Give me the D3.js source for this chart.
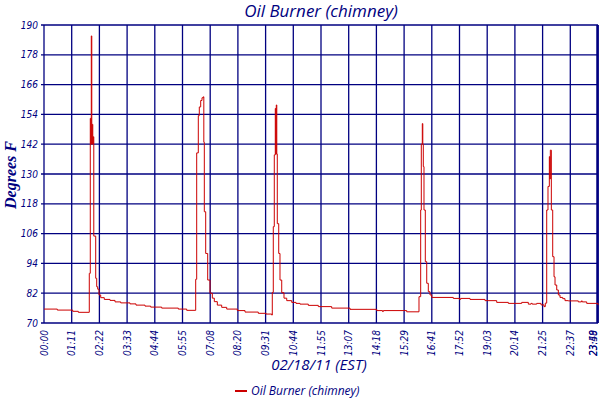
<!DOCTYPE html>
<html>
<head>
<meta charset="utf-8">
<script src="https://cdn.jsdelivr.net/npm/d3@7"></script>
<style>
  body { margin: 0; background: #fff; }
  text { fill: #000080; }
</style>
</head>
<body>
<div id="chart"></div>
<script>
// minutes since midnight on 02/18/11
const times = [
  0, 34.6, 74.6, 89.2, 117.7, 119, 120.3, 121.6, 122.9, 124.2, 125.5, 126.8, 128.1, 129.4,
  134.4, 137, 139.6, 143, 147.4, 156.7, 171.6, 184.6, 199.4, 223.5, 239.1, 262.5, 277.3,
  305.9, 349.1, 370.9, 394.3, 395.6, 396.9, 401.1, 403.7, 407.3, 410.7, 414.1, 415.4, 416.7,
  420.3, 425.5, 431.5, 437.5, 442.7, 450.5, 461.9, 474.9, 502.5, 522.5, 557, 577, 591.9,
  593.4, 596, 598.6, 601.2, 602.5, 603.8, 605.1, 606.4, 610.1, 613.4, 617.9, 623.8, 630.9,
  643.9, 655, 665.4, 687, 713, 747.8, 795.4, 864.8, 880, 882, 942.8, 974.7, 977.5, 979.1,
  980.7, 983.3, 984.6, 985.9, 987.7, 991.1, 994.8, 998.9, 1003.3, 1007.8, 1063.9, 1080,
  1083, 1107.3, 1146.3, 1176.7, 1206.9, 1241.7, 1258.9, 1266, 1269, 1280.7, 1291.9, 1299.7,
  1303, 1306.7, 1310, 1313.5, 1314.8, 1316.1, 1318.7, 1322.3, 1325.7, 1328.3, 1332.7,
  1336.9, 1341.2, 1348.3, 1354.2, 1362.8, 1388.8, 1397, 1399, 1410.6, 1436.6, 1440
];
const temps = [
  75.6, 75.2, 74.7, 74.3, 90, 90, 152.4, 142, 185.6, 142, 150, 142, 145, 105,
  88, 84.6, 83.6, 81.3, 80.2, 79.5, 79.1, 78.5, 78.1, 77.7, 77.2, 76.8, 76.4,
  76.0, 75.6, 75.1, 87.6, 87.6, 138.5, 153.5, 157, 159.6, 160.7, 161.1, 142.8, 114.8,
  98, 87.3, 82, 80, 78.6, 77.2, 76.3, 75.6, 75, 74.4, 73.9, 73.6, 73.2,
  82.3, 108.8, 137.7, 156.4, 138, 157.8, 138, 110, 98, 87.3, 82.2, 80, 79,
  78.3, 77.9, 77.6, 77.1, 76.6, 76, 75.5, 75, 74.6, 75, 74.5, 80.6, 80.6, 115.5,
  142, 150.3, 142, 133, 115.5, 94.7, 86, 82.6, 81.3, 80.3, 79.9, 79.5,
  79.9, 79.5, 79, 78.3, 77.9, 78.3, 77.6, 77.9, 77.6, 77.9, 77.3, 76.6,
  78, 115.5, 125, 137, 128, 139.6, 115.5, 96.7, 88.6, 85.3, 83.3,
  81.3, 80.3, 79.8, 79, 78.9, 78.5, 78.9, 78.5, 77.9, 77.9, 77.2
];
const yTicks = [70, 82, 94, 106, 118, 130, 142, 154, 166, 178, 190];
const xTickLabels = [
  "00:00", "01:11", "02:22", "03:33", "04:44", "05:55", "07:08", "08:20", "09:31",
  "10:44", "11:55", "13:07", "14:18", "15:29", "16:41", "17:52", "19:03", "20:14",
  "21:25", "22:37", "23:48"
];
const lastLabel = "23:59";
const seriesName = "Oil Burner (chimney)";

const width = 600, height = 400;
const margin = { top: 25, right: 2, bottom: 77, left: 44 };
const navy = "#000080";
const red = "#cc0000";

const svg = d3.select("#chart")
  .append("svg")
  .attr("width", width)
  .attr("height", height);

const x = d3.scaleLinear()
  .domain([0, 1440])
  .range([margin.left, width - margin.right]);

const y = d3.scaleLinear()
  .domain([70, 190])
  .range([height - margin.bottom, margin.top]);

// tick positions are evenly spaced slots across the day
const xTickPos = xTickLabels.map((d, i) => i * 1440 / (xTickLabels.length - 1));

// grid
const grid = svg.append("g").attr("stroke", navy).attr("stroke-width", 1.3);
grid.selectAll(".hg")
  .data(yTicks)
  .join("line")
  .attr("x1", margin.left - 3)
  .attr("x2", width - margin.right)
  .attr("y1", (d) => y(d))
  .attr("y2", (d) => y(d));
grid.selectAll(".vg")
  .data(xTickPos)
  .join("line")
  .attr("x1", (d) => x(d))
  .attr("x2", (d) => x(d))
  .attr("y1", margin.top)
  .attr("y2", height - margin.bottom);

// heavier right border
svg.append("line")
  .attr("x1", x(1440) - 0.5).attr("x2", x(1440) - 0.5)
  .attr("y1", margin.top).attr("y2", height - margin.bottom)
  .attr("stroke", navy)
  .attr("stroke-width", 2.5);

// y tick labels
svg.append("g")
  .selectAll("text")
  .data(yTicks)
  .join("text")
  .attr("x", margin.left - 6)
  .attr("y", (d) => y(d) + 3.5)
  .attr("text-anchor", "end")
  .style("font", "italic 10px 'DejaVu Sans Condensed', 'DejaVu Sans', sans-serif")
  .text((d) => d);

// x tick labels, rotated
const xl = svg.append("g")
  .style("font", "italic 10px 'DejaVu Sans Condensed', 'DejaVu Sans', sans-serif");
xl.selectAll("text")
  .data(xTickLabels)
  .join("text")
  .attr("transform", (d, i) => `translate(${Math.min(x(xTickPos[i]) + 3.5, 597)},${height - margin.bottom + 7}) rotate(-90)`)
  .attr("text-anchor", "end")
  .text((d) => d);
xl.append("text")
  .attr("transform", `translate(597,${height - margin.bottom + 7}) rotate(-90)`)
  .attr("text-anchor", "end")
  .text(lastLabel);

// data line
const data = times.map((t, i) => ({ t: t, v: temps[i] }));
const line = d3.line()
  .x((d) => x(d.t))
  .y((d) => y(d.v))
  .curve(d3.curveStepAfter);
svg.append("path")
  .datum(data)
  .attr("fill", "none")
  .attr("stroke", red)
  .attr("stroke-width", 1)
  .attr("d", line);

// title
svg.append("text")
  .attr("x", 321)
  .attr("y", 17)
  .attr("text-anchor", "middle")
  .style("font", "italic 17px 'Open Sans', sans-serif")
  .text(seriesName);

// axis titles
svg.append("text")
  .attr("transform", "translate(16,175) rotate(-90)")
  .attr("text-anchor", "middle")
  .style("font", "italic bold 16px 'Liberation Serif', serif")
  .text("Degrees F");

svg.append("text")
  .attr("x", 319)
  .attr("y", 370)
  .attr("text-anchor", "middle")
  .style("font", "italic 15px 'Open Sans', sans-serif")
  .text("02/18/11 (EST)");

// legend
const legend = svg.append("g").attr("transform", "translate(235,391)");
legend.append("line")
  .attr("x1", 0).attr("x2", 12)
  .attr("stroke", red).attr("stroke-width", 2);
legend.append("text")
  .attr("x", 16)
  .attr("y", 3.5)
  .style("font", "italic 12px 'Open Sans', sans-serif")
  .text(seriesName);
</script>
</body>
</html>
